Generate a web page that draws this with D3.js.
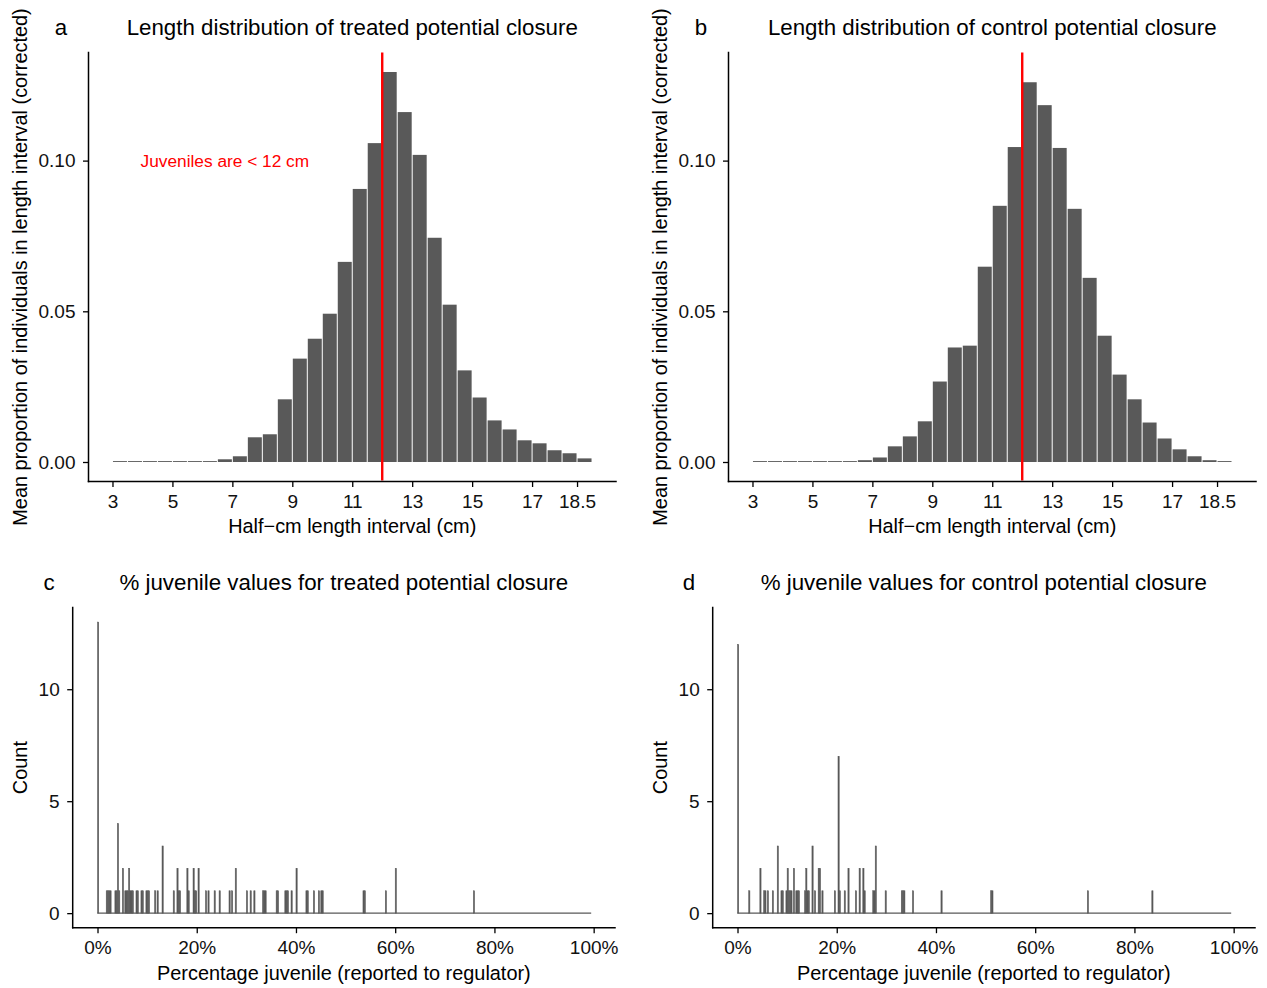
<!DOCTYPE html>
<html>
<head>
<meta charset="utf-8">
<script src="https://cdn.jsdelivr.net/npm/d3@7"></script>
<style>
  html, body { margin: 0; padding: 0; background: #fff; }
  svg text { font-family: "Liberation Sans", Arial, Helvetica, sans-serif; }
</style>
</head>
<body>
<svg id="chart" width="1267" height="988"></svg>
<script>
// ---------- DATA ----------
// Half-cm length intervals (bar centres, cm)
const lengthBins = [3.25, 3.75, 4.25, 4.75, 5.25, 5.75, 6.25, 6.75, 7.25, 7.75, 8.25, 8.75,
  9.25, 9.75, 10.25, 10.75, 11.25, 11.75, 12.25, 12.75, 13.25, 13.75, 14.25, 14.75,
  15.25, 15.75, 16.25, 16.75, 17.25, 17.75, 18.25, 18.75];
const treatedProp = [0.0003, 0.0003, 0.0003, 0.0003, 0.0003, 0.0003, 0.0003, 0.0009, 0.0019, 0.0082, 0.0092, 0.0208,
  0.0343, 0.0409, 0.0492, 0.0664, 0.0906, 0.1058, 0.1294, 0.1161, 0.1019, 0.0744, 0.0522, 0.0304,
  0.0214, 0.0138, 0.0108, 0.0072, 0.0062, 0.0039, 0.0029, 0.0012];
const controlProp = [0.0003, 0.0003, 0.0003, 0.0003, 0.0003, 0.0003, 0.0003, 0.0006, 0.0015, 0.0052, 0.0085, 0.0135,
  0.0267, 0.0380, 0.0386, 0.0648, 0.0850, 0.1045, 0.1260, 0.1184, 0.1042, 0.0840, 0.0611, 0.0419,
  0.0290, 0.0208, 0.0131, 0.0078, 0.0042, 0.0019, 0.0006, 0.0003];
const lengthTicks = [3, 5, 7, 9, 11, 13, 15, 17, 18.5];
const propTicks = [0, 0.05, 0.10];
const juvenileCut = 12;

// % juvenile histograms (bin start in %, bin width 0.25 %)
const treatedPct = [0, 1.75, 2, 2.25, 2.5, 3.5, 3.75, 4, 4.25, 5, 5.5, 5.75, 6, 6.25, 6.5, 6.75, 7,
  7.75, 8, 8.75, 9, 9.75, 10, 10.25, 11.5, 12, 13, 15.25, 16, 16.25, 16.5, 18, 18.25, 19.25, 19.5,
  19.75, 20.25, 21.75, 22.25, 23.5, 24.5, 26.5, 27, 27.75, 30, 30.75, 31.5, 33.25, 33.5, 33.75,
  36, 36.25, 37.75, 38, 38.25, 39, 40, 42, 42.25, 43.5, 44.5, 45, 45.25, 53.5, 53.75, 58, 60, 75.75];
const treatedCount = [13, 1, 1, 1, 1, 1, 1, 4, 1, 2, 1, 1, 1, 2, 1, 1, 1,
  1, 1, 1, 1, 1, 1, 1, 1, 1, 3, 1, 2, 1, 1, 2, 1, 2, 1,
  1, 2, 1, 1, 1, 1, 1, 1, 2, 1, 1, 1, 1, 1, 1,
  1, 1, 1, 1, 1, 1, 2, 1, 1, 1, 1, 1, 1, 1, 1, 1, 2, 1];
const controlPct = [0, 2.25, 4.5, 5.25, 5.5, 6, 7, 8, 8.75, 9, 9.75, 10, 10.25, 10.5, 10.75, 11.25,
  11.75, 12, 12.25, 13.5, 13.75, 14, 14.25, 15, 15.5, 16.25, 16.5, 17, 19.5, 20.25, 20.5, 21.5,
  22.25, 23.75, 24.5, 25.25, 25.5, 27.25, 27.5, 27.75, 29.75, 33, 33.25, 33.5, 35.25, 41, 51, 51.25,
  70.5, 83.5];
const controlCount = [12, 1, 2, 1, 1, 1, 1, 3, 1, 1, 1, 2, 1, 1, 1, 2,
  1, 1, 1, 1, 2, 1, 1, 3, 1, 2, 2, 1, 1, 7, 1, 1,
  2, 1, 2, 2, 1, 1, 1, 3, 1, 1, 1, 1, 1, 1, 1, 1,
  1, 1];
const pctTicks = [0, 20, 40, 60, 80, 100];
const countTicks = [0, 5, 10];
const binWidthPct = 0.25;

// ---------- DRAW ----------
const svg = d3.select("#chart");
const BAR = "#595959";
const FONT_TICK = 19, FONT_AXIS = 19.9, FONT_TITLE = 22.3;

function axes(g, x, y, xTicks, yTicks, xFmt, yFmt) {
  const [x0, x1] = x.range();
  const [yb, yt] = y.range();
  g.append("line").attr("x1", x0).attr("x2", x1).attr("y1", yb).attr("y2", yb)
    .attr("stroke", "#000").attr("stroke-width", 1.5).attr("stroke-linecap", "square");
  g.append("line").attr("x1", x0).attr("x2", x0).attr("y1", yb).attr("y2", yt)
    .attr("stroke", "#000").attr("stroke-width", 1.5).attr("stroke-linecap", "square");
  const xa = g.append("g").attr("transform", `translate(0,${yb})`)
    .call(d3.axisBottom(x).tickValues(xTicks).tickFormat(xFmt).tickSizeInner(5.5).tickSizeOuter(0).tickPadding(7.5));
  xa.select(".domain").remove();
  xa.selectAll("line").attr("stroke", "#000").attr("stroke-width", 1.3);
  xa.selectAll("text").attr("font-size", FONT_TICK).attr("fill", "#111")
    .attr("font-family", "Liberation Sans, Arial, sans-serif");
  const ya = g.append("g").attr("transform", `translate(${x0},0)`)
    .call(d3.axisLeft(y).tickValues(yTicks).tickFormat(yFmt).tickSizeInner(5.5).tickSizeOuter(0).tickPadding(7.5));
  ya.select(".domain").remove();
  ya.selectAll("line").attr("stroke", "#000").attr("stroke-width", 1.3);
  ya.selectAll("text").attr("font-size", FONT_TICK).attr("fill", "#111")
    .attr("font-family", "Liberation Sans, Arial, sans-serif");
}

function labels(g, x, y, letter, letterX, title, xTitle, yTitle, titleY, xTitleY, yTitleX) {
  const [x0, x1] = x.range();
  const [yb, yt] = y.range();
  const cx = (x0 + x1) / 2, cy = (yb + yt) / 2;
  g.append("text").attr("x", letterX).attr("y", titleY).attr("text-anchor", "middle")
    .attr("font-size", FONT_TITLE).text(letter);
  g.append("text").attr("x", cx).attr("y", titleY).attr("text-anchor", "middle")
    .attr("font-size", FONT_TITLE).text(title);
  g.append("text").attr("x", cx).attr("y", xTitleY).attr("text-anchor", "middle")
    .attr("font-size", FONT_AXIS).text(xTitle);
  g.append("text").attr("transform", `translate(${yTitleX},${cy}) rotate(-90)`)
    .attr("text-anchor", "middle").attr("font-size", FONT_AXIS).text(yTitle);
}

const propMax = d3.max(treatedProp.concat(controlProp));
const propPad = propMax * 0.05;
function lengthPanel(dx, values, letter, title, annotate) {
  const g = svg.append("g");
  const x = d3.scaleLinear().domain([2.2, 19.8]).range([88.5 + dx, 616 + dx]);
  const y = d3.scaleLinear().domain([-propPad, propMax + propPad]).range([481.5, 52.5]);
  const data = lengthBins.map((m, i) => ({ m, v: values[i] }));
  g.selectAll("rect.bar").data(data).join("rect").attr("class", "bar")
    .attr("x", d => x(d.m - 0.25) + 0.5)
    .attr("width", d => x(d.m + 0.25) - x(d.m - 0.25) - 1)
    .attr("y", d => y(d.v))
    .attr("height", d => y(0) - y(d.v))
    .attr("fill", BAR);
  g.append("line").attr("x1", x(juvenileCut)).attr("x2", x(juvenileCut))
    .attr("y1", y.range()[1]).attr("y2", y.range()[0] - 1)
    .attr("stroke", "#FF0000").attr("stroke-width", 2.4);
  if (annotate) {
    g.append("text").attr("x", x(6.75)).attr("y", y(0.10)).attr("dy", "0.35em")
      .attr("text-anchor", "middle").attr("fill", "#FF0000").attr("font-size", 17.3)
      .text("Juveniles are < 12 cm");
  }
  axes(g, x, y, lengthTicks, propTicks, d3.format(""), d3.format(".2f"));
  labels(g, x, y, letter, 61 + dx, title, "Half\u2212cm length interval (cm)",
    "Mean proportion of individuals in length interval (corrected)", 34.5, 533, 27 + dx);
}

const countMax = d3.max(treatedCount.concat(controlCount));
const countPad = countMax * 0.05;
function pctPanel(dx, pcts, counts, letter, title) {
  const g = svg.append("g");
  const x = d3.scaleLinear().domain([-5, 104.3]).range([72.7 + dx, 615 + dx]);
  const y = d3.scaleLinear().domain([-countPad, countMax + countPad]).range([927.7, 607.5]);
  g.append("line").attr("x1", x(0)).attr("x2", x(99.5)).attr("y1", y(0)).attr("y2", y(0))
    .attr("stroke", BAR).attr("stroke-width", 1.2);
  const data = pcts.map((p, i) => ({ p, c: counts[i] }));
  g.selectAll("rect.bar").data(data).join("rect").attr("class", "bar")
    .attr("x", d => x(d.p))
    .attr("width", d => x(d.p + binWidthPct) - x(d.p))
    .attr("y", d => y(d.c))
    .attr("height", d => y(0) - y(d.c))
    .attr("fill", BAR).attr("stroke", BAR).attr("stroke-width", 0.5);
  axes(g, x, y, pctTicks, countTicks, d => d + "%", d3.format("d"));
  labels(g, x, y, letter, 49 + dx, title, "Percentage juvenile (reported to regulator)",
    "Count", 590, 980, 27 + dx);
}

lengthPanel(0, treatedProp, "a", "Length distribution of treated potential closure", true);
lengthPanel(640, controlProp, "b", "Length distribution of control potential closure", false);
pctPanel(0, treatedPct, treatedCount, "c", "% juvenile values for treated potential closure");
pctPanel(640, controlPct, controlCount, "d", "% juvenile values for control potential closure");
</script>
</body>
</html>
